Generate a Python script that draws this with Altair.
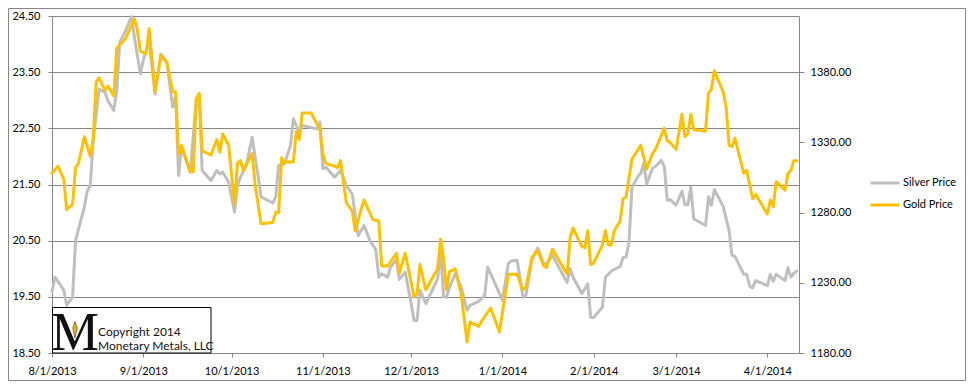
import altair as alt
import pandas as pd

# ---------------- data ----------------
silver_dates = [
    "2013-08-01", "2013-08-02", "2013-08-05", "2013-08-06", "2013-08-08", "2013-08-09", "2013-08-12",
    "2013-08-13", "2013-08-14", "2013-08-15", "2013-08-17", "2013-08-19", "2013-08-20", "2013-08-22",
    "2013-08-23", "2013-08-24", "2013-08-26", "2013-08-28", "2013-08-29", "2013-08-31",
    "2013-09-01", "2013-09-03", "2013-09-05", "2013-09-07", "2013-09-09", "2013-09-11", "2013-09-12",
    "2013-09-13", "2013-09-14", "2013-09-17", "2013-09-19", "2013-09-20", "2013-09-21", "2013-09-24",
    "2013-09-26", "2013-09-27", "2013-09-28", "2013-09-30",
    "2013-10-02", "2013-10-03", "2013-10-04", "2013-10-06", "2013-10-08", "2013-10-09", "2013-10-10",
    "2013-10-11", "2013-10-15", "2013-10-16", "2013-10-17", "2013-10-19", "2013-10-21", "2013-10-22",
    "2013-10-24", "2013-10-25", "2013-10-30", "2013-10-31",
    "2013-11-01", "2013-11-02", "2013-11-05", "2013-11-07", "2013-11-09", "2013-11-11", "2013-11-13",
    "2013-11-15", "2013-11-17", "2013-11-19", "2013-11-20", "2013-11-21", "2013-11-23", "2013-11-24",
    "2013-11-26", "2013-11-27", "2013-11-29",
    "2013-12-01", "2013-12-02", "2013-12-03", "2013-12-04", "2013-12-06", "2013-12-10", "2013-12-11",
    "2013-12-12", "2013-12-13", "2013-12-14", "2013-12-16", "2013-12-18", "2013-12-20", "2013-12-21",
    "2013-12-24", "2013-12-26", "2013-12-27",
    "2014-01-01", "2014-01-03", "2014-01-04", "2014-01-06", "2014-01-08", "2014-01-09", "2014-01-11",
    "2014-01-13", "2014-01-15", "2014-01-16", "2014-01-18", "2014-01-23", "2014-01-24", "2014-01-25",
    "2014-01-28", "2014-01-30", "2014-01-31",
    "2014-02-01", "2014-02-04", "2014-02-05", "2014-02-07", "2014-02-10", "2014-02-11", "2014-02-12",
    "2014-02-13", "2014-02-14", "2014-02-16", "2014-02-17", "2014-02-18", "2014-02-19", "2014-02-21",
    "2014-02-22", "2014-02-24", "2014-02-25", "2014-02-26", "2014-02-27",
    "2014-03-01", "2014-03-03", "2014-03-04", "2014-03-05", "2014-03-06", "2014-03-07", "2014-03-11",
    "2014-03-12", "2014-03-13", "2014-03-14", "2014-03-17", "2014-03-19", "2014-03-20", "2014-03-21",
    "2014-03-24", "2014-03-25", "2014-03-26", "2014-03-27", "2014-03-28",
    "2014-04-01", "2014-04-02", "2014-04-03", "2014-04-04", "2014-04-07", "2014-04-08", "2014-04-09",
    "2014-04-10", "2014-04-11",
]
silver_price = [
    19.59, 19.85, 19.62, 19.35, 19.50, 20.50, 21.10,
    21.39, 21.48, 22.28, 23.20, 23.14, 22.99, 22.82,
    23.17, 24.03, 24.24, 24.49, 24.12, 23.47,
    23.71, 24.06, 23.11, 23.82, 23.68, 22.88, 23.08,
    21.66, 22.16, 21.72, 23.02, 23.11, 21.75, 21.57,
    21.75, 21.69, 21.72, 21.54,
    21.01, 21.48, 21.63, 21.84, 22.34, 21.99, 21.66,
    21.28, 21.17, 21.28, 21.84, 21.87, 22.19, 22.67,
    22.43, 22.55, 22.49, 22.61,
    21.78, 21.81, 21.63, 21.75, 21.48, 21.33, 20.59,
    20.77, 20.50, 20.34, 19.85, 19.91, 19.85, 20.03,
    20.16, 19.81, 19.94,
    19.38, 19.08, 19.08, 19.62, 19.38, 19.82, 20.36,
    19.50, 19.49, 19.67, 19.91, 19.67, 19.26, 19.35,
    19.42, 19.53, 20.03,
    19.44, 20.09, 20.14, 20.15, 19.49, 19.53, 20.16,
    20.37, 20.09, 20.09, 20.24, 19.75, 20.00, 19.85,
    19.56, 19.73, 19.13,
    19.13, 19.32, 19.85, 19.96, 20.04, 20.20, 20.21,
    20.47, 21.45, 21.64, 21.70, 21.88, 21.51, 21.79,
    21.82, 21.93, 21.82, 21.22, 21.23,
    21.13, 21.38, 21.14, 21.14, 21.45, 20.89, 20.77,
    21.28, 21.13, 21.41, 21.11, 20.68, 20.24, 20.22,
    19.90, 19.90, 19.69, 19.66, 19.79,
    19.70, 19.90, 19.78, 19.90, 19.79, 20.02, 19.85,
    19.92, 19.96,
]

gold_dates = [
    "2013-08-01", "2013-08-03", "2013-08-05", "2013-08-06", "2013-08-08", "2013-08-09", "2013-08-10",
    "2013-08-12", "2013-08-14", "2013-08-15", "2013-08-16", "2013-08-17", "2013-08-19", "2013-08-20",
    "2013-08-22", "2013-08-23", "2013-08-26", "2013-08-29", "2013-08-30", "2013-08-31",
    "2013-09-02", "2013-09-03", "2013-09-05", "2013-09-07", "2013-09-09", "2013-09-11", "2013-09-12",
    "2013-09-13", "2013-09-14", "2013-09-17", "2013-09-18", "2013-09-19", "2013-09-20", "2013-09-21",
    "2013-09-24", "2013-09-26", "2013-09-27", "2013-09-28", "2013-09-30",
    "2013-10-02", "2013-10-03", "2013-10-04", "2013-10-05", "2013-10-08", "2013-10-09", "2013-10-11",
    "2013-10-15", "2013-10-16", "2013-10-17", "2013-10-18", "2013-10-19", "2013-10-22", "2013-10-23",
    "2013-10-24", "2013-10-25", "2013-10-28", "2013-10-30", "2013-10-31",
    "2013-11-01", "2013-11-02", "2013-11-05", "2013-11-06", "2013-11-07", "2013-11-09", "2013-11-11",
    "2013-11-12", "2013-11-14", "2013-11-15", "2013-11-18", "2013-11-20", "2013-11-21", "2013-11-23",
    "2013-11-26", "2013-11-27", "2013-11-29",
    "2013-12-02", "2013-12-03", "2013-12-04", "2013-12-06", "2013-12-10", "2013-12-11", "2013-12-12",
    "2013-12-13", "2013-12-14", "2013-12-16", "2013-12-18", "2013-12-20", "2013-12-21", "2013-12-24",
    "2013-12-25", "2013-12-28", "2013-12-31",
    "2014-01-03", "2014-01-06", "2014-01-08", "2014-01-09", "2014-01-11", "2014-01-13", "2014-01-15",
    "2014-01-16", "2014-01-18", "2014-01-23", "2014-01-24", "2014-01-25", "2014-01-28", "2014-01-29",
    "2014-01-30", "2014-01-31",
    "2014-02-01", "2014-02-04", "2014-02-05", "2014-02-06", "2014-02-07", "2014-02-08", "2014-02-10",
    "2014-02-11", "2014-02-12", "2014-02-14", "2014-02-17", "2014-02-19", "2014-02-21", "2014-02-22",
    "2014-02-25", "2014-02-26", "2014-02-27",
    "2014-03-01", "2014-03-03", "2014-03-04", "2014-03-05", "2014-03-06", "2014-03-07", "2014-03-11",
    "2014-03-12", "2014-03-13", "2014-03-14", "2014-03-17", "2014-03-18", "2014-03-19", "2014-03-20",
    "2014-03-21", "2014-03-24", "2014-03-25", "2014-03-27", "2014-03-28",
    "2014-04-01", "2014-04-02", "2014-04-03", "2014-04-04", "2014-04-07", "2014-04-08", "2014-04-09",
    "2014-04-10", "2014-04-11",
]
gold_price = [
    1308, 1313, 1304, 1282, 1286, 1312, 1315,
    1334, 1320, 1332, 1373, 1376, 1367, 1370,
    1363, 1397, 1404, 1418, 1410, 1395,
    1393, 1411, 1366, 1392, 1387, 1366, 1366,
    1321, 1328, 1309, 1309, 1361, 1365, 1324,
    1321, 1332, 1323, 1336, 1328,
    1286, 1315, 1317, 1310, 1322, 1300, 1272,
    1273, 1280, 1280, 1319, 1316, 1316, 1338,
    1332, 1351, 1351, 1343, 1340,
    1322, 1315, 1313, 1312, 1317, 1287, 1281,
    1267, 1282, 1289, 1275, 1274, 1242, 1242,
    1251, 1237, 1251,
    1220, 1222, 1243, 1225, 1240, 1261, 1248,
    1225, 1238, 1240, 1222, 1188, 1202, 1199,
    1203, 1212, 1195,
    1236, 1236, 1225, 1227, 1248, 1253, 1242,
    1241, 1254, 1236, 1262, 1269, 1256, 1255,
    1267, 1243,
    1244, 1257, 1267, 1257, 1257, 1267, 1274,
    1290, 1291, 1318, 1328, 1311, 1322, 1325,
    1340, 1331, 1330,
    1325, 1350, 1334, 1336, 1350, 1339, 1338,
    1365, 1368, 1381, 1366, 1355, 1328, 1327,
    1333, 1308, 1310, 1290, 1293,
    1279, 1289, 1284, 1302, 1296, 1308, 1310,
    1317, 1317,
]

series_names = ["Silver Price", "Gold Price"]
series_colors = ["#BFBFBF", "#FFC000"]
silver_ticks = [18.5, 19.5, 20.5, 21.5, 22.5, 23.5, 24.5]
gold_ticks = [1180, 1230, 1280, 1330, 1380]
month_ticks = [(2013, 8), (2013, 9), (2013, 10), (2013, 11), (2013, 12),
               (2014, 1), (2014, 2), (2014, 3), (2014, 4)]
copyright_lines = ["Copyright 2014", "Monetary Metals, LLC"]

# ---------------- tables ----------------
silver_df = pd.DataFrame({"date": pd.to_datetime(silver_dates), "price": silver_price,
                          "series": series_names[0]})
gold_df = pd.DataFrame({"date": pd.to_datetime(gold_dates), "price": gold_price,
                        "series": series_names[1]})
one = pd.DataFrame({"k": [0]})

FONT = "Lato"
GRID = "#868686"

x_enc = alt.X(
    "date:T",
    title=None,
    scale=alt.Scale(domain=[alt.DateTime(year=2013, month=8, date=1),
                            alt.DateTime(year=2014, month=4, date=11, hours=18)]),
    axis=alt.Axis(values=[alt.DateTime(year=y, month=m, date=1) for y, m in month_ticks],
                  format="%-m/%-d/%Y", grid=False, tickSize=4, labelPadding=8,
                  labelFlush=False, labelOverlap=False),
)

color_enc = alt.Color(
    "series:N",
    scale=alt.Scale(domain=series_names, range=series_colors),
    legend=alt.Legend(title=None, orient="none", legendX=817, legendY=151,
                      symbolType="stroke", symbolStrokeWidth=3, symbolSize=841,
                      labelFont=FONT, labelFontSize=11, labelColor="#000000",
                      labelOffset=2, rowPadding=-5, padding=0),
)

line_style = dict(strokeWidth=3, strokeJoin="round", strokeCap="round")

silver = alt.Chart(silver_df).mark_line(**line_style).encode(
    x=x_enc,
    y=alt.Y("price:Q", title=None,
            scale=alt.Scale(domain=[18.5, 24.5], nice=False, zero=False),
            axis=alt.Axis(orient="left", values=silver_ticks, format=".2f", grid=True,
                          tickSize=4, labelPadding=8)),
    color=color_enc,
)

gold = alt.Chart(gold_df).mark_line(**line_style).encode(
    x=x_enc,
    y=alt.Y("price:Q", title=None,
            scale=alt.Scale(domain=[1180, 1420], nice=False, zero=False),
            axis=alt.Axis(orient="right", values=gold_ticks, format=".2f", grid=False,
                          tickSize=5, labelPadding=6)),
    color=color_enc,
)

# copyright box (annotation)
box = alt.Chart(one).mark_rect(fill="white", stroke="black", strokeWidth=1).encode(
    x=alt.value(0.5), x2=alt.value(159), y=alt.value(291.5), y2=alt.value(337))
logo_m = alt.Chart(one).mark_text(text="M", font="Liberation Serif", fontSize=54,
                                  color="#111111", baseline="alphabetic", align="center").encode(
    x=alt.value(23), y=alt.value(334))
logo_gem = alt.Chart(one).mark_point(shape="M0,-1L0.35,0L0,1.6L-0.35,0Z", filled=True,
                                     fill="#F2B705", stroke="#333333", strokeWidth=0.6,
                                     size=160, opacity=1).encode(
    x=alt.value(23), y=alt.value(312))
copy1 = alt.Chart(one).mark_text(text=copyright_lines[0], font=FONT, fontSize=12, color="#111111",
                                 align="left", baseline="alphabetic").encode(
    x=alt.value(46), y=alt.value(319.5))
copy2 = alt.Chart(one).mark_text(text=copyright_lines[1], font=FONT, fontSize=12, color="#111111",
                                 align="left", baseline="alphabetic").encode(
    x=alt.value(46), y=alt.value(333.5))

frame = alt.Chart(one).mark_rect(fillOpacity=0, stroke=GRID, strokeWidth=1).encode(
    x=alt.value(-43.5), x2=alt.value(913.5), y=alt.value(-7.5), y2=alt.value(364.5))

chart = alt.layer(
    silver, gold, frame, box, logo_m, logo_gem, copy1, copy2
).resolve_scale(
    y="independent"
).properties(
    width=747, height=337,
    autosize=alt.AutoSizeParams(type="none"),
    padding={"left": 44, "top": 8, "right": 167, "bottom": 28},
    background="white",
).configure_view(
    stroke="transparent"
).configure_axis(
    labelFont=FONT, labelFontSize=11, labelColor="#000000",
    domainColor=GRID, tickColor=GRID, gridColor=GRID,
    domainWidth=1, tickWidth=1, gridWidth=1,
)

chart.save("out.html", embed_options={"renderer": "svg", "actions": False})
